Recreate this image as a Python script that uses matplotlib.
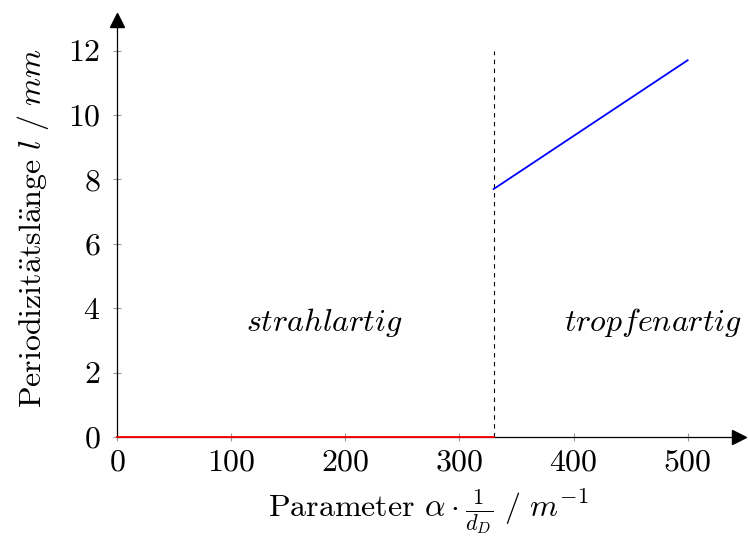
import matplotlib
matplotlib.use("Agg")
import matplotlib.pyplot as plt

plt.rcParams['font.family'] = ['serif']
plt.rcParams['font.serif'] = ['cmr10', 'DejaVu Serif']
plt.rcParams['mathtext.fontset'] = 'cm'
plt.rcParams['axes.formatter.use_mathtext'] = True

# Data
jet_x = [0, 330]
jet_y = [0, 0]
drop_x = [330, 500]
drop_y = [7.7, 11.7]
boundary_x = 330
boundary_y = [0, 12]
x_ticks = [0, 100, 200, 300, 400, 500]
y_ticks = [0, 2, 4, 6, 8, 10, 12]
region_labels = [r'$strahlartig$', r'$tropfenartig$']
region_x = [182, 470]
region_y = [3.55, 3.55]

FS = 23

fig = plt.figure(figsize=(7.48, 5.38), dpi=100)
ax = fig.add_axes([117/748, 101/538, 622/748, 417/538])

ax.plot(jet_x, jet_y, color='#ff0000', lw=1.3, zorder=3, clip_on=False)
ax.plot(drop_x, drop_y, color='#0000ff', lw=1.3, zorder=3)
ax.plot([boundary_x, boundary_x], boundary_y, color='black', lw=0.8,
        dashes=(4, 4), zorder=2)

for t, x, y in zip(region_labels, region_x, region_y):
    ax.text(x, y, t, ha='center', va='center', fontsize=FS)

ax.set_xlim(0, 545)
ax.set_ylim(0, 12.95)
ax.set_xticks(x_ticks)
ax.set_yticks(y_ticks)
ax.tick_params(direction='inout', length=6, width=0.8, color='#999999',
               labelsize=FS, pad=6)
ax.tick_params(axis='y', pad=9)

for s in ['top', 'right']:
    ax.spines[s].set_visible(False)
for s in ['left', 'bottom']:
    ax.spines[s].set_linewidth(0.9)

ax.plot(1, 0, marker='>', color='black', markersize=10, transform=ax.transAxes,
        clip_on=False, zorder=5)
ax.plot(0, 1, marker='^', color='black', markersize=10, transform=ax.transAxes,
        clip_on=False, zorder=5)

ax.set_xlabel(r'Parameter $\alpha \cdot \frac{1}{d_D}\ /\ m^{-1}$', fontsize=FS,
              labelpad=8)
ax.set_ylabel(r'$\mathrm{Periodizit\ddot{a}tsl\ddot{a}nge}\ l\ /\ mm$', fontsize=FS,
              labelpad=12)

fig.savefig('out.png', dpi=100)
